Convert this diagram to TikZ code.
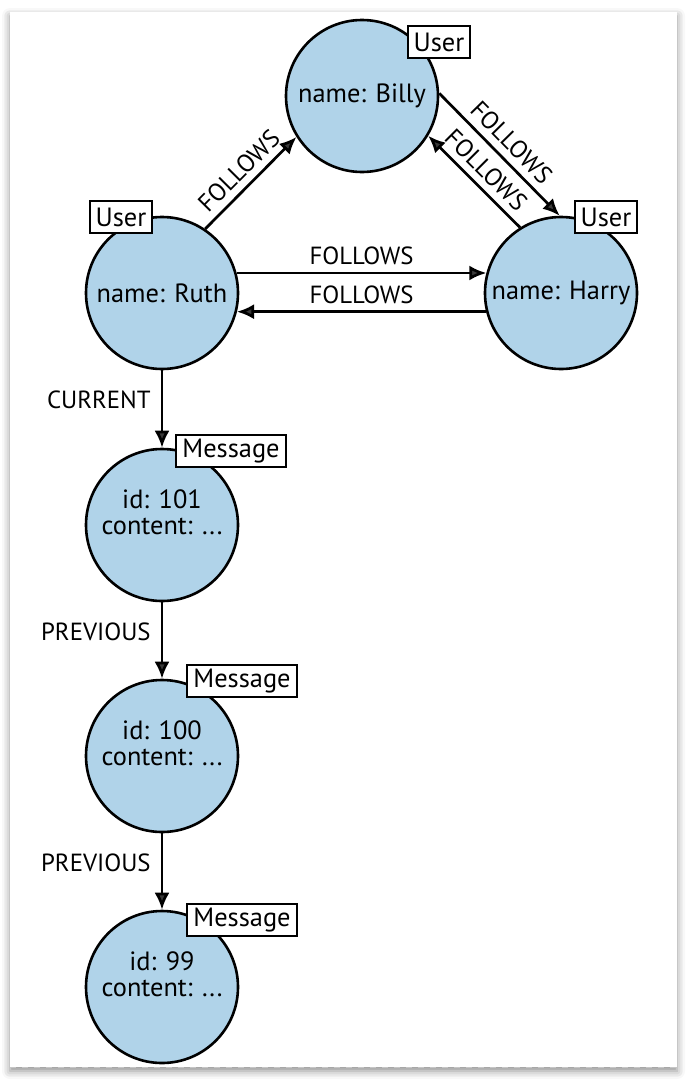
\documentclass[tikz,border=0pt]{standalone}
\usepackage{fontspec}
\setmainfont{PT Sans}
\usepackage{tikz}
\usetikzlibrary{arrows.meta, shadows.blur}
\definecolor{nodeblue}{RGB}{176,211,233}

\begin{document}
\begin{tikzpicture}[x=0.5pt, y=-0.5pt, font=\fontsize{13.2}{12.8}\selectfont,
    entity/.style={circle, draw=black, line width=1.3pt, fill=nodeblue,
        minimum size=76pt, inner sep=0pt, align=center},
    msg/.style={entity, text depth=13pt},
    tag/.style={draw=black, line width=1pt, fill=white, inner xsep=3pt,
        inner ysep=0pt, minimum height=16pt},
    rel/.style={line width=1.35pt, -{Latex[length=8.5pt,width=7.5pt]}},
    rlabel/.style={font=\fontsize{12.4}{13}\selectfont}]
        \useasboundingbox (0,0) rectangle (694,1087);
        \fill[white, blur shadow={shadow xshift=0pt, shadow yshift=-2pt,
            shadow blur radius=4pt, shadow opacity=45}] (10,12) rectangle (677,1067);
        \draw[gray!45, dashed, line width=0.5pt] (10,1067) -- (677,1067);

        \node[entity] (billy) at (362,96) {name: Billy};
        \node[entity] (ruth) at (162,293) {name: Ruth};
        \node[entity] (harry) at (561,293) {name: Harry};
        \node[msg] (m101) at (162,525) {id: 101\\content: ...};
        \node[msg] (m100) at (162,756) {id: 100\\content: ...};
        \node[msg] (m99) at (162,987) {id: 99\\content: ...};

        \node[tag] (billyTag) at (439,42) {User};
        \node[tag] (ruthTag) at (121,217) {User};
        \node[tag] (harryTag) at (606,217) {User};
        \node[tag] (m101Tag) at (231,451) {Message};
        \node[tag] (m100Tag) at (242,681) {Message};
        \node[tag] (m99Tag) at (242,920) {Message};

        \draw[rel] (ruth.56) -- (billy.212)
            node[rlabel, midway, above, sloped] {FOLLOWS};
        \draw[rel] (billy.2) -- (harry.91)
            node[rlabel, midway, above, sloped] {FOLLOWS};
        \draw[rel] (harry.122) -- (billy.-31)
            node[rlabel, midway, above, sloped] {FOLLOWS};
        \draw[rel] (ruth.15) -- (harry.165)
            node[rlabel, midway, above] {FOLLOWS};
        \draw[rel] (harry.194) -- (ruth.-14)
            node[rlabel, midway, above] {FOLLOWS};

        \draw[rel] (ruth) -- (m101)
            node[rlabel, pos=0.38, left, inner xsep=5pt] {CURRENT};
        \foreach \a/\b in {m101/m100, m100/m99}
        \draw[rel] (\a) -- (\b)
            node[rlabel, pos=0.38, left, inner xsep=5pt] {PREVIOUS};
    \end{tikzpicture}
\end{document}
